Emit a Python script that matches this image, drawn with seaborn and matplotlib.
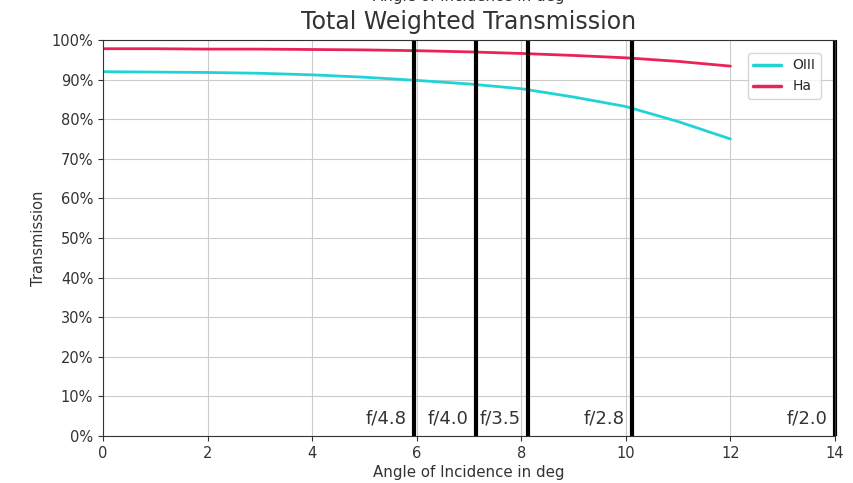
import numpy as np
import pandas as pd
import matplotlib
import matplotlib.pyplot as plt
from matplotlib.ticker import PercentFormatter
import seaborn as sns

matplotlib.use("Agg")

ANGLES = [0, 1, 2, 3, 4, 5, 6, 7, 8, 9, 10, 11, 12]
OIII = [92.0, 91.9, 91.8, 91.6, 91.2, 90.6, 89.8, 88.9, 87.7, 85.6, 83.2, 79.4, 75.0]
HA = [97.8, 97.8, 97.7, 97.7, 97.6, 97.5, 97.3, 97.0, 96.6, 96.1, 95.5, 94.6, 93.4]

F_LABELS = ["f/4.8", "f/4.0", "f/3.5", "f/2.8", "f/2.0"]
F_ANGLES = [5.95, 7.13, 8.13, 10.12, 14.0]

COLORS = {"OIII": "#22d3d6", "Ha": "#ea2357"}

sns.set_style("ticks")
plt.rcParams["font.family"] = ["DejaVu Sans"]

df = pd.DataFrame({"angle": ANGLES * 2,
                   "trans": OIII + HA,
                   "filter": ["OIII"] * len(ANGLES) + ["Ha"] * len(ANGLES)})

fig = plt.figure(figsize=(8.54, 4.83), dpi=100)
ax = fig.add_axes([103 / 854, 1 - 436 / 483, 732 / 854, 396 / 483])

sns.lineplot(data=df, x="angle", y="trans", hue="filter", palette=COLORS,
             linewidth=2, ax=ax)

for lab, ang in zip(F_LABELS, F_ANGLES):
    ax.axvline(ang, color="black", linewidth=3, clip_on=False,
               solid_capstyle="butt")
    ax.text(ang - 0.14, 2.2, lab, ha="right", va="bottom", fontsize=13,
            color="#333333")

ax.set_xlim(0, 14)
ax.set_ylim(0, 100)
ax.set_yticks(np.arange(0, 101, 10))
ax.yaxis.set_major_formatter(PercentFormatter(decimals=0))
ax.grid(True, color="#cccccc", linewidth=0.8)
ax.set_xlabel("Angle of Incidence in deg", fontsize=10.8, color="#333333",
              labelpad=3)
ax.set_ylabel("Transmission", fontsize=10.5, color="#333333")
ax.tick_params(labelsize=10.5, colors="#333333")
ax.set_title("Total Weighted Transmission", fontsize=17, color="#333333", pad=8)
for s in ax.spines.values():
    s.set_color("#333333")
    s.set_visible(True)

leg = ax.legend(loc="upper right", fontsize=10, title=None,
                bbox_to_anchor=(0.99, 0.985))
for line in leg.get_lines():
    line.set_linewidth(2.5)

# top axis label, cut off by the image edge
fig.text(0.5 * (103 + 835) / 854, 1.008, "Angle of Incidence in deg",
         ha="center", va="center", fontsize=10.8, color="#333333")

fig.savefig("out.png", dpi=100)
